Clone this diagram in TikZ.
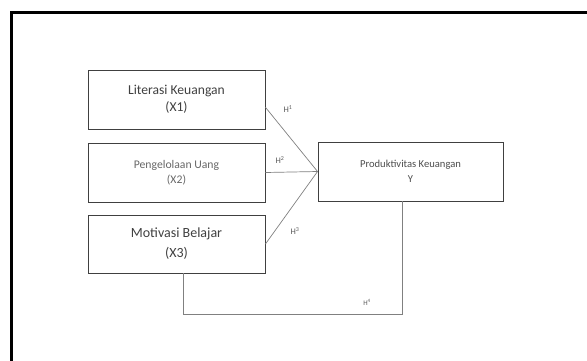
\documentclass[tikz,border=0pt]{standalone}
\usepackage{fontspec}
\setmainfont{Carlito}
\usepackage{tikz}
\usetikzlibrary{positioning}

\begin{document}
\begin{tikzpicture}
		[x=1pt,y=-1pt,semithick,
		box/.style={rectangle,draw=black!75,line width=0.9pt,align=center,inner sep=0pt},
		conn/.style={draw=black!50,line width=0.7pt},
		hlab/.style={font=\fontsize{8.5}{9}\selectfont,text=black!65}]
		\useasboundingbox (0,0) rectangle (587,360);
		\clip (0,0) rectangle (587,360);
		\draw[line width=2.4pt] (11.5,12.5) rectangle (620,400);
		
		\node[box,minimum width=177pt,minimum height=59pt,font=\fontsize{13.6}{17}\selectfont,text=black!75] (r1) at (176.5,99.5) {Literasi Keuangan\\(X1)};
		\node[box,minimum width=177pt,minimum height=59pt,font=\fontsize{11.7}{15}\selectfont,text=black!60] (r2) at (176.5,172.5) {Pengelolaan Uang\\(X2)};
		\node[box,minimum width=177pt,minimum height=58pt,font=\fontsize{14}{20}\selectfont,text=black!75] (r3) at (176.5,244) {Motivasi Belajar\\(X3)};
		\node[box,minimum width=185pt,minimum height=59pt,font=\fontsize{10.6}{15}\selectfont,text=black!70] (r0) at (410.5,171.5) {Produktivitas Keuangan\\Y};
		
		\node[hlab] (h1) at (288,109) {H\textsuperscript{1}};
		\node[hlab] (h2) at (280,160) {H\textsuperscript{2}};
		\node[hlab] (h3) at (295,231) {H\textsuperscript{3}};
		\node[hlab,font=\fontsize{7}{8}\selectfont] (h4) at (367,302) {H\textsuperscript{4}};
		
		\path[conn] (r1.-5) edge (r0.west);
		\path[conn] (r2.east) edge (r0.west);
		\path[conn] (r3.east) edge (r0.west);
		\draw[conn] ([xshift=6.5pt]r3.south) -- ++(0,41) -| ([xshift=-8pt]r0.south);
		
	\end{tikzpicture}
\end{document}
